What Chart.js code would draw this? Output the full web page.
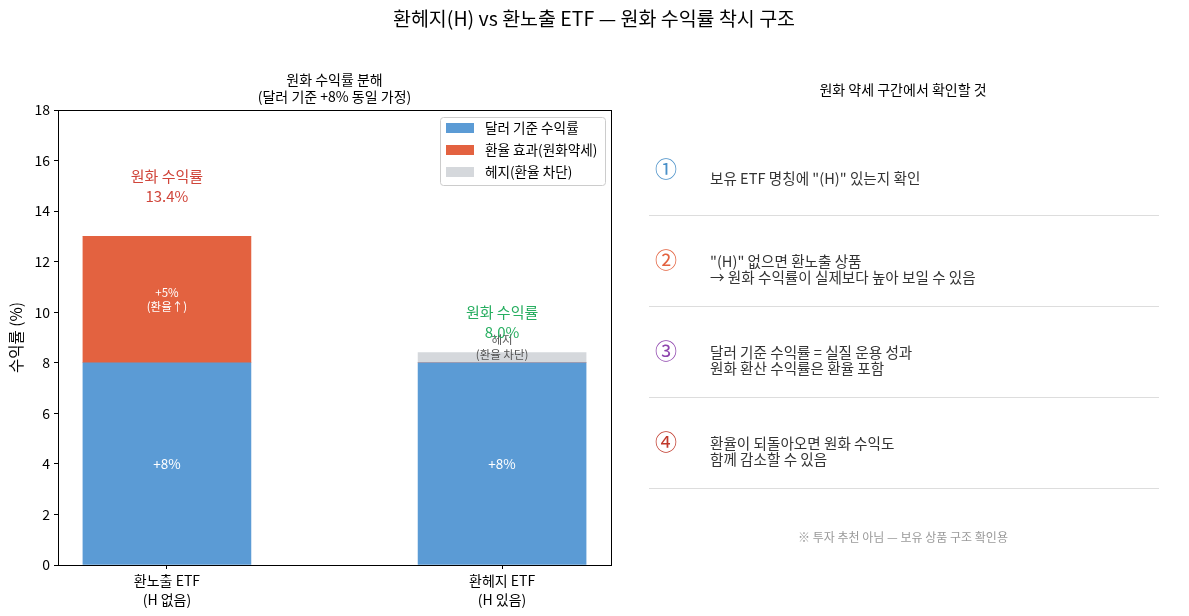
<!DOCTYPE html>
<html><head><meta charset="utf-8">
<script src="https://cdn.jsdelivr.net/npm/chart.js@4.4.1/dist/chart.umd.min.js"></script>
<style>html,body{margin:0;padding:0;background:#fff;}#wrap{width:1189px;height:616px;position:relative;}</style>
</head><body><div id="wrap"><canvas id="c" width="1189" height="616"></canvas></div>
<script>
const FONT = '"Noto Sans CJK KR","Noto Sans",sans-serif';
const categories = [["환노출 ETF","(H 없음)"],["환헤지 ETF","(H 있음)"]];
const seriesNames = ["달러 기준 수익률","환율 효과(원화약세)","헤지(환율 차단)"];
const dollarReturn = [8, 8];
const fxEffect = [5, 0];
const hedgeEffect = [0, 0.4];
const krwReturn = [13.4, 8.0];
const yTickValues = [0,2,4,6,8,10,12,14,16,18];
const checklist = [
  ["보유 ETF 명칭에 \"(H)\" 있는지 확인"],
  ["\"(H)\" 없으면 환노출 상품","→ 원화 수익률이 실제보다 높아 보일 수 있음"],
  ["달러 기준 수익률 = 실질 운용 성과","원화 환산 수익률은 환율 포함"],
  ["환율이 되돌아오면 원화 수익도","함께 감소할 수 있음"]
];
const marks = ["①","②","③","④"];
const markColors = ["#4a90c8","#e3623f","#8e44ad","#c0392b"];
const colors = ["#5b9bd5","#e36240","#d5d8dc"];

const overlay = {
  id:'overlay',
  afterDraw(chart){
    const ctx = chart.ctx, ca = chart.chartArea, xs = chart.scales.x, ys = chart.scales.y;
    ctx.save();
    ctx.strokeStyle='#000'; ctx.lineWidth=1;
    ctx.strokeRect(Math.round(ca.left)+0.5, Math.round(ca.top)+0.5, Math.round(ca.right-ca.left), Math.round(ca.bottom-ca.top));
    ctx.textAlign='center'; ctx.textBaseline='middle';
    ctx.fillStyle='#000'; ctx.font='19.5px '+FONT;
    ctx.fillText("환헤지(H) vs 환노출 ETF — 원화 수익률 착시 구조", 594, 19);
    ctx.font='14px '+FONT;
    ctx.fillText("원화 수익률 분해", (ca.left+ca.right)/2, 80);
    ctx.fillText("(달러 기준 +8% 동일 가정)", (ca.left+ca.right)/2, 97);
    ctx.save(); ctx.translate(16,(ca.top+ca.bottom)/2); ctx.rotate(-Math.PI/2);
    ctx.font='15.5px '+FONT; ctx.fillText("수익률 (%)",0,0); ctx.restore();
    for(let i=0;i<2;i++){
      const x = xs.getPixelForValue(i);
      ctx.fillStyle='#fff'; ctx.font='13.5px '+FONT;
      ctx.fillText("+"+dollarReturn[i]+"%", x, ys.getPixelForValue(dollarReturn[i]/2));
      if(fxEffect[i]>0){
        const yc = ys.getPixelForValue(dollarReturn[i]+fxEffect[i]/2);
        ctx.font='11.5px '+FONT;
        ctx.fillText("+"+fxEffect[i]+"%", x, yc-7);
        ctx.fillText("(환율↑)", x, yc+7);
      }
      if(hedgeEffect[i]>0){
        const yc = ys.getPixelForValue(dollarReturn[i]+hedgeEffect[i]+0.2);
        ctx.fillStyle='#555'; ctx.font='11.5px '+FONT;
        ctx.fillText("헤지", x, yc-8);
        ctx.fillText("(환율 차단)", x, yc+7);
      }
    }
    const annY = [15.0, 9.6];
    const annC = ["#d0453a","#27ae60"];
    for(let i=0;i<2;i++){
      const x = xs.getPixelForValue(i), yc = ys.getPixelForValue(annY[i]);
      ctx.fillStyle=annC[i]; ctx.font='15px '+FONT;
      ctx.fillText("원화 수익률", x, yc-10);
      ctx.fillText(krwReturn[i].toFixed(1)+"%", x, yc+10);
    }
    const lx=440, ly=117, lw=165, lh=68;
    ctx.fillStyle='rgba(255,255,255,0.85)'; ctx.strokeStyle='#ccc'; ctx.lineWidth=1;
    ctx.beginPath(); ctx.roundRect(lx+0.5,ly+0.5,lw,lh,3); ctx.fill(); ctx.stroke();
    ctx.textAlign='left'; ctx.font='13.6px '+FONT;
    chart.data.datasets.forEach((ds,k)=>{
      const ry = 128 + k*22;
      ctx.fillStyle=ds.backgroundColor; ctx.fillRect(446, ry-5, 28, 10);
      ctx.fillStyle='#000'; ctx.fillText(ds.label, 485, ry);
    });
    ctx.textAlign='center'; ctx.fillStyle='#000'; ctx.font='14px '+FONT;
    ctx.fillText("원화 약세 구간에서 확인할 것", 903, 90);
    for(let k=0;k<4;k++){
      const cy = 169 + k*91;
      ctx.textAlign='center'; ctx.fillStyle=markColors[k]; ctx.font='22px '+FONT;
      ctx.fillText(marks[k], 666, cy);
      ctx.textAlign='left'; ctx.fillStyle='#333'; ctx.font='14.6px '+FONT;
      const lines = checklist[k];
      const tc = cy + 9, lh2 = 16;
      lines.forEach((t,j)=>{ ctx.fillText(t, 710, tc + (j-(lines.length-1)/2)*lh2); });
      ctx.strokeStyle='#dddddd'; ctx.lineWidth=1;
      ctx.beginPath(); ctx.moveTo(649, 215.5+k*91); ctx.lineTo(1159, 215.5+k*91); ctx.stroke();
    }
    ctx.textAlign='center'; ctx.fillStyle='#999'; ctx.font='12px '+FONT;
    ctx.fillText("※ 투자 추천 아님 — 보유 상품 구조 확인용", 903, 537);
    ctx.restore();
  }
};

const mk = arr => arr.map((v,i)=>({x:i,y:v}));
new Chart(document.getElementById('c'), {
  type:'bar',
  data:{datasets:[
    {label:seriesNames[0], data:mk(dollarReturn), backgroundColor:colors[0]},
    {label:seriesNames[1], data:mk(fxEffect), backgroundColor:colors[1]},
    {label:seriesNames[2], data:mk(hedgeEffect), backgroundColor:colors[2]}
  ]},
  options:{
    responsive:false, animation:false,
    layout:{padding:{left:0,right:578,top:110,bottom:0}},
    plugins:{legend:{display:false},tooltip:{enabled:false}},
    datasets:{bar:{barThickness:168, borderWidth:0}},
    scales:{
      x:{type:'linear', stacked:true, min:-0.325, max:1.325, offset:false,
         afterBuildTicks(s){ s.ticks = [{value:0},{value:1}]; },
         afterFit(s){ s.height = 51; },
         border:{display:false},
         grid:{offset:false, drawOnChartArea:false, drawTicks:true, tickLength:4, color:'#000'},
         ticks:{color:'#000', font:{family:FONT,size:14, lineHeight:1.3}, padding:3, maxRotation:0,
                callback:(v)=>categories[v]}},
      y:{type:'linear', stacked:true, min:0, max:18,
         afterBuildTicks(s){ s.ticks = yTickValues.map(v=>({value:v})); },
         afterFit(s){ s.width = 58; },
         border:{display:false},
         grid:{drawOnChartArea:false, drawTicks:true, tickLength:4, color:'#000'},
         ticks:{color:'#000', font:{family:FONT,size:14}, padding:4}}
    }
  },
  plugins:[overlay]
});
</script></body></html>
